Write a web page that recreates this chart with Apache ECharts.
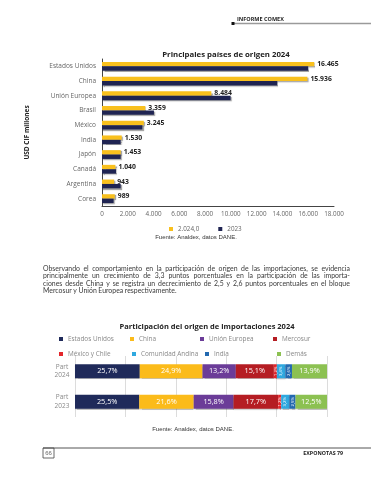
<!DOCTYPE html>
<html><head><meta charset="utf-8">
<script src="https://cdn.jsdelivr.net/npm/echarts@6/dist/echarts.min.js"></script>
<style>
html,body{margin:0;padding:0;background:#fff;}
#c{position:absolute;left:0;top:0;width:371px;height:480px;}
#p{position:absolute;left:43px;top:265px;width:307px;font-family:Lato,'Noto Sans',sans-serif;font-size:6.9px;line-height:7.4px;color:#3a3a3a;}
#p .ln{display:flex;justify-content:space-between;white-space:nowrap;}
#p .last{justify-content:flex-start;}
#p .last span{margin-right:1.6px;}
</style></head><body>
<div id="c"></div>
<div id="p"></div>
<script>
// ---------- data ----------
const countries = ['Estados Unidos','China','Unión Europea','Brasil','México','India','Japón','Canadá','Argentina','Corea'];
const values2024 = [16465,15936,8484,3359,3245,1530,1453,1040,943,989];
const values2023 = [16000,13600,9980,4030,3130,1450,1450,1090,1450,900];
const seriesNames1 = ['2.024,0','2023'];
const xTickMax = 18000, xTickStep = 2000;

const shareCategories = ['Part\n2024','Part\n2023'];
const shareGroups = ['Estados Unidos','China','Unión Europea','Mercosur','México y Chile','Comunidad Andina','India','Demás'];
const shareEstadosUnidos = [25.7,25.5];
const shareChina = [24.9,21.6];
const shareUnionEuropea = [13.2,15.8];
const shareMercosur = [15.1,17.7];
const shareMexicoChile = [1.2,1.2];
const shareComunidadAndina = [3.4,3.2];
const shareIndia = [2.6,2.5];
const shareDemas = [13.9,12.5];

const paragraphLines = [
 'Observando el comportamiento en la participación de origen de las importaciones, se evidencia',
 'principalmente un crecimiento de 3,3 puntos porcentuales en la participación de las importa-',
 'ciones desde China y se registra un decrecimiento de 2,5 y 2,6 puntos porcentuales en el bloque',
 'Mercosur y Unión Europea respectivamente.'
];
// ---------------------------

const p = document.getElementById('p');
paragraphLines.forEach((l,i)=>{
  const d = document.createElement('div');
  d.className = 'ln' + (i===paragraphLines.length-1?' last':'');
  l.split(' ').forEach(w=>{const s=document.createElement('span');s.textContent=w;d.appendChild(s);});
  p.appendChild(d);
});

const fmtK = v => String(v).replace(/\B(?=(\d{3})+(?!\d))/g,'.');
const fmtPct = v => v.toFixed(1).replace('.',',') + '%';
const F = "'Open Sans', sans-serif";

const shareArrays = [shareEstadosUnidos,shareChina,shareUnionEuropea,shareMercosur,shareMexicoChile,shareComunidadAndina,shareIndia,shareDemas];
const shareColors = ['#1f2a5a','#fbbb1a','#6b3c98','#b51d23','#e3262b','#2fa8df','#2369b0','#8cc152'];
const smallIdx = [4,5,6];

const legendPos = [[54,331],[125,331],[195,331],[268,331],[54,346],[127,346],[200,346],[272,346]];

const chart = echarts.init(document.getElementById('c'), null, {renderer:'canvas'});
const shadow = {shadowColor:'rgba(0,0,0,0.35)', shadowOffsetX:1.2, shadowOffsetY:1.2, shadowBlur:1};

const option = {
  backgroundColor:'#fff',
  animation:false,
  textStyle:{fontFamily:F},
  title:[
    {text:'Principales países de origen 2024', left:221, textAlign:'center', top:45.5,
     textStyle:{fontSize:7.8, fontWeight:'bold', color:'#222', fontFamily:F}},
    {text:'Participación del origen de importaciones 2024', left:202, textAlign:'center', top:317.5,
     textStyle:{fontSize:7.5, fontWeight:'bold', color:'#222', fontFamily:F}}
  ],
  grid:[
    {left:102, right:37, top:59, bottom:274, containLabel:false},
    {left:75, right:44, top:356, bottom:63, containLabel:false}
  ],
  legend:[
    {data:seriesNames1, left:164, top:221, itemWidth:4, itemHeight:4, itemGap:19, icon:'rect',
     textStyle:{fontSize:6.3, color:'#666', fontFamily:F}}
  ].concat(shareGroups.map((g,i)=>({data:[g], left:legendPos[i][0], top:legendPos[i][1], itemWidth:4, itemHeight:4, icon:'rect',
     textStyle:{fontSize:6.4, color:'#888', fontFamily:F}}))),
  xAxis:[
    {type:'value', gridIndex:0, min:0, max:xTickMax, interval:xTickStep,
     axisLine:{show:true, lineStyle:{color:'#444', width:1}}, axisTick:{show:false}, splitLine:{show:false},
     axisLabel:{fontSize:6.3, color:'#666', margin:5, formatter:fmtK}},
    {type:'value', gridIndex:1, min:0, max:100, interval:20,
     axisLine:{show:false}, axisTick:{show:false}, axisLabel:{show:false},
     splitLine:{show:true, lineStyle:{color:'#dcdcdc', width:1}}}
  ],
  yAxis:[
    {type:'category', gridIndex:0, data:countries, inverse:true,
     axisLine:{show:true, lineStyle:{color:'#444', width:1}}, axisTick:{show:false},
     axisLabel:{fontSize:6.5, color:'#666', margin:6},
     name:'USD CIF millones', nameLocation:'middle', nameRotate:90, nameGap:71,
     nameTextStyle:{fontSize:6.5, fontWeight:'bold', color:'#222'}},
    {type:'category', gridIndex:1, data:shareCategories, inverse:true,
     axisLine:{show:false}, axisTick:{show:false},
     axisLabel:{fontSize:6.5, color:'#888', margin:13, align:'center', lineHeight:8.5}}
  ],
  series:[
    {name:seriesNames1[0], type:'bar', xAxisIndex:0, yAxisIndex:0, data:values2024, barWidth:4.4, barGap:'0%',
     itemStyle:Object.assign({color:'#f9c01d'}, shadow),
     label:{show:true, position:'right', distance:3, fontSize:6.8, fontWeight:'bold', color:'#222', formatter:p=>fmtK(p.value)}},
    {name:seriesNames1[1], type:'bar', xAxisIndex:0, yAxisIndex:0, data:values2023, barWidth:4.4, barGap:'0%',
     itemStyle:Object.assign({color:'#1f2452'}, shadow)}
  ].concat(shareGroups.map((g,i)=>({
     name:g, type:'bar', stack:'share', xAxisIndex:1, yAxisIndex:1, data:shareArrays[i], barWidth:14,
     itemStyle:{color:shareColors[i], shadowColor:'rgba(0,0,0,0.25)', shadowOffsetY:1, shadowBlur:1},
     label: smallIdx.includes(i)
       ? {show:true, position:'inside', rotate:90, fontSize:4.2, color:'#fff', formatter:p=>fmtPct(p.value)}
       : {show:true, position:'inside', fontSize:7.3, color:'#fff', formatter:p=>fmtPct(p.value)}
  }))),
  graphic:[
    {type:'text', left:237, top:16, style:{text:'INFORME COMEX', fontSize:5.5, fontWeight:'bold', fill:'#222', fontFamily:F}},
    {type:'line', shape:{x1:234, y1:23.5, x2:371, y2:23.5}, style:{stroke:'#9a9a9a', lineWidth:1.4}},
    {type:'rect', shape:{x:231.5, y:22, width:3, height:3}, style:{fill:'#111'}},
    {type:'text', x:196, y:237, style:{text:'Fuente: Analdex, datos DANE.', fontSize:6, fill:'#333', fontFamily:'Liberation Sans, Arial', align:'center', verticalAlign:'middle'}},
    {type:'text', x:193, y:429.5, style:{text:'Fuente: Analdex, datos DANE.', fontSize:6, fill:'#333', fontFamily:'Liberation Sans, Arial', align:'center', verticalAlign:'middle'}},
    {type:'line', shape:{x1:43, y1:448, x2:371, y2:448}, style:{stroke:'#555', lineWidth:1}},
    {type:'rect', shape:{x:43, y:448, width:11, height:10}, style:{fill:'none', stroke:'#444', lineWidth:0.8}},
    {type:'text', x:48.5, y:453.3, style:{text:'66', fontSize:6, fill:'#666', fontFamily:'Liberation Sans, Arial', align:'center', verticalAlign:'middle'}},
    {type:'text', x:343, y:453.3, style:{text:'EXPONOTAS 79', fontSize:5.3, fontWeight:'bold', fill:'#222', fontFamily:F, align:'right', verticalAlign:'middle'}}
  ]
};
chart.setOption(option);
</script>
</body></html>
